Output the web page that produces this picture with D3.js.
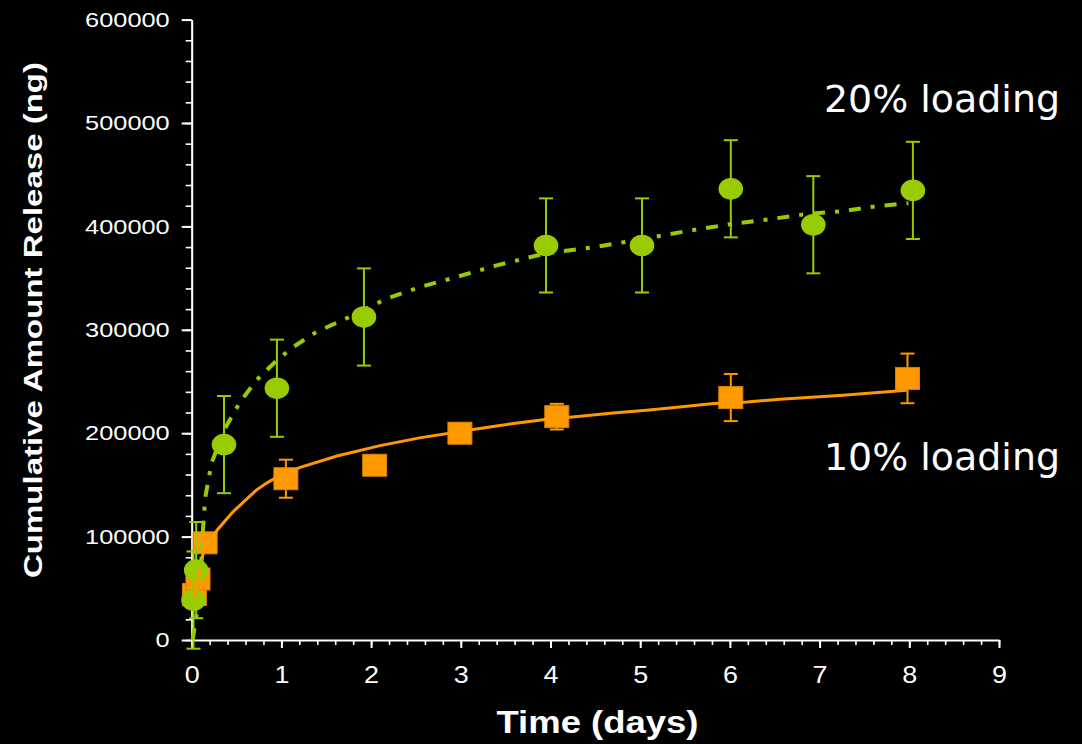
<!DOCTYPE html>
<html>
<head>
<meta charset="utf-8">
<script src="https://cdn.jsdelivr.net/npm/d3@7"></script>
<style>
  html, body { margin: 0; padding: 0; background: #000; }
  svg { display: block; }
</style>
</head>
<body>
<div id="canvas"></div>
<script>
"use strict"

/***********************************
 DATA
************************************/
// 10% loading: measured points (orange squares)
let days10 = [0.03, 0.07, 0.15, 1.05, 2.04, 2.99, 4.07, 6.01, 7.98];
let release10 = [44000, 59000, 94000, 156000, 169000, 200000, 216000, 234500, 253000];
let error10 = [5000, 5000, 6000, 18400, 4000, 4000, 12400, 22800, 24000];

// 20% loading: measured points (green circles)
let days20 = [0.02, 0.05, 0.36, 0.95, 1.92, 3.95, 5.02, 6.01, 6.93, 8.04];
let release20 = [38600, 67600, 189000, 243500, 312400, 381600, 381600, 436400, 401600, 434800];
let error20 = [47000, 46500, 47000, 47000, 47000, 45500, 45500, 47000, 47000, 47000];

// model curves
let fitDays10 = [0.03, 0.13, 0.28, 0.46, 0.72, 0.84, 1.0, 1.21, 1.62, 2.10, 2.54, 3.21, 3.59, 3.94,
    4.33, 4.70, 5.07, 5.44, 5.82, 6.19, 6.56, 7.26, 7.97];
let fitRelease10 = [40000, 85000, 106000, 124000, 145000, 152000, 160000, 167000, 178000, 188000,
    195500, 204500, 209400, 213200, 216400, 219600, 222200, 225400, 228700, 230200, 232900, 236700, 241500];

let fitDays20 = [0.01, 0.03, 0.09, 0.10, 0.12, 0.15, 0.22, 0.37, 0.54, 0.72, 0.95, 1.13, 1.39, 1.80, 2.17,
    2.55, 2.95, 3.40, 3.95, 4.50, 5.11, 5.56, 6.04, 6.48, 6.89, 7.26, 7.64, 7.99];
let fitRelease20 = [0, 11000, 42000, 60000, 100000, 137000, 171000, 204500, 230200, 251200, 270500, 283400,
    297900, 314000, 330100, 341400, 351000, 362300, 374000, 380000, 389100, 396100, 402600, 407400,
    412300, 414800, 419600, 422500];

let xTicks = d3.range(0, 10, 1);
let xMinorTicks = d3.range(0, 9.001, 0.2);
let yTicks = d3.range(0, 600001, 100000);
let yMinorTicks = d3.range(0, 600001, 20000);
let seriesLabels = ["20% loading", "10% loading"];

/***********************************
 CONFIGURATION
************************************/
let svgWidth = 1082;
let svgHeight = 744;
let plotLeft = 191.7, plotRight = 999, plotTop = 19.6, plotBottom = 640;
let green = "#99cc00";
let orange = "#ff9900";

let svg = d3.select("#canvas")
    .append("svg")
    .attr("width", svgWidth)
    .attr("height", svgHeight);

svg.append("rect")
    .attr("width", svgWidth)
    .attr("height", svgHeight)
    .attr("fill", "#000");

/***********************************
 SCALES
************************************/
let xScale = d3.scaleLinear().domain([0, 9]).range([plotLeft, plotRight]);
let yScale = d3.scaleLinear().domain([0, 600000]).range([plotBottom, plotTop]);

/***********************************
 AXES
************************************/
// minor ticks first
svg.append("g")
    .attr("transform", `translate(0, ${plotBottom})`)
    .attr("color", "#fff")
    .call(d3.axisBottom(xScale).tickValues(xMinorTicks).tickSize(5).tickSizeOuter(0).tickFormat(""))
    .call(g => g.selectAll("line").attr("stroke-width", 1.6));

svg.append("g")
    .attr("transform", `translate(${plotLeft}, 0)`)
    .attr("color", "#fff")
    .call(d3.axisLeft(yScale).tickValues(yMinorTicks).tickSize(6).tickSizeOuter(0).tickFormat(""))
    .call(g => g.selectAll("line").attr("stroke-width", 1.6));

let xAxis = svg.append("g")
    .attr("transform", `translate(0, ${plotBottom})`)
    .attr("color", "#fff")
    .call(d3.axisBottom(xScale).tickValues(xTicks).tickSize(8).tickSizeOuter(0).tickPadding(19));
xAxis.select(".domain").attr("stroke-width", 2);
xAxis.selectAll("line").attr("stroke-width", 2);
xAxis.selectAll("text")
    .attr("font-family", "'Liberation Sans', Arial, sans-serif")
    .attr("font-size", 23)
    .attr("textLength", 15)
    .attr("lengthAdjust", "spacingAndGlyphs");

let yAxis = svg.append("g")
    .attr("transform", `translate(${plotLeft}, 0)`)
    .attr("color", "#fff")
    .call(d3.axisLeft(yScale).tickValues(yTicks).tickSize(10).tickSizeOuter(0).tickPadding(12)
        .tickFormat(d3.format("d")));
yAxis.select(".domain").attr("stroke-width", 2);
yAxis.selectAll("line").attr("stroke-width", 2);
yAxis.selectAll("text")
    .attr("font-family", "'Liberation Sans', Arial, sans-serif")
    .attr("font-size", 21)
    .attr("textLength", d => 14.1 * String(d).length)
    .attr("lengthAdjust", "spacingAndGlyphs");

/***********************************
 ERROR BARS + MARKERS
************************************/
function drawErrorBars(days, values, errors, color) {
    let g = svg.append("g").attr("stroke", color).attr("stroke-width", 2);
    days.forEach((d, i) => {
        let x = xScale(d);
        let y1 = yScale(values[i] + errors[i]);
        let y2 = yScale(values[i] - errors[i]);
        g.append("line").attr("x1", x).attr("x2", x).attr("y1", y1).attr("y2", y2);
        g.append("line").attr("x1", x - 7).attr("x2", x + 7).attr("y1", y1).attr("y2", y1);
        g.append("line").attr("x1", x - 7).attr("x2", x + 7).attr("y1", y2).attr("y2", y2);
    });
}

drawErrorBars(days10, release10, error10, orange);

svg.append("g")
    .selectAll("rect")
    .data(days10)
    .join("rect")
    .attr("x", d => xScale(d) - 12)
    .attr("y", (d, i) => yScale(release10[i]) - 11)
    .attr("width", 24)
    .attr("height", 22)
    .attr("fill", orange)
    .attr("stroke", "#d98200")
    .attr("stroke-width", 1);

drawErrorBars(days20, release20, error20, green);

svg.append("g")
    .selectAll("ellipse")
    .data(days20)
    .join("ellipse")
    .attr("cx", d => xScale(d))
    .attr("cy", (d, i) => yScale(release20[i]))
    .attr("rx", 12.3)
    .attr("ry", 10.8)
    .attr("fill", green);

/***********************************
 MODEL CURVES
************************************/
let line = d3.line()
    .x(d => xScale(d[0]))
    .y(d => yScale(d[1]));

svg.append("path")
    .datum(fitDays10.map((d, i) => [d, fitRelease10[i]]))
    .attr("d", line)
    .attr("fill", "none")
    .attr("stroke", orange)
    .attr("stroke-width", 3);

svg.append("path")
    .datum(fitDays20.map((d, i) => [d, fitRelease20[i]]))
    .attr("d", line)
    .attr("fill", "none")
    .attr("stroke", green)
    .attr("stroke-width", 4)
    .attr("stroke-dasharray", "12,10,4,10");

/***********************************
 SERIES LABELS
************************************/
svg.append("text")
    .attr("x", 1060)
    .attr("y", 112)
    .attr("text-anchor", "end")
    .attr("font-family", "'DejaVu Sans', Verdana, sans-serif")
    .attr("font-size", 38)
    .attr("fill", "#fff")
    .attr("textLength", 236)
    .attr("lengthAdjust", "spacingAndGlyphs")
    .text(seriesLabels[0]);

svg.append("text")
    .attr("x", 1060)
    .attr("y", 470)
    .attr("text-anchor", "end")
    .attr("font-family", "'DejaVu Sans', Verdana, sans-serif")
    .attr("font-size", 38)
    .attr("fill", "#fff")
    .attr("textLength", 236)
    .attr("lengthAdjust", "spacingAndGlyphs")
    .text(seriesLabels[1]);

/***********************************
 AXIS TITLES
************************************/
svg.append("text")
    .attr("x", 597.5)
    .attr("y", 733)
    .attr("text-anchor", "middle")
    .attr("font-family", "'Liberation Sans', Arial, sans-serif")
    .attr("font-weight", "bold")
    .attr("font-size", 31)
    .attr("fill", "#fff")
    .attr("textLength", 202)
    .attr("lengthAdjust", "spacingAndGlyphs")
    .text("Time (days)");

svg.append("text")
    .attr("transform", "translate(42, 320) rotate(-90)")
    .attr("text-anchor", "middle")
    .attr("font-family", "'Liberation Sans', Arial, sans-serif")
    .attr("font-weight", "bold")
    .attr("font-size", 26)
    .attr("fill", "#fff")
    .attr("textLength", 516)
    .attr("lengthAdjust", "spacingAndGlyphs")
    .text("Cumulative Amount Release (ng)");
</script>
</body>
</html>
